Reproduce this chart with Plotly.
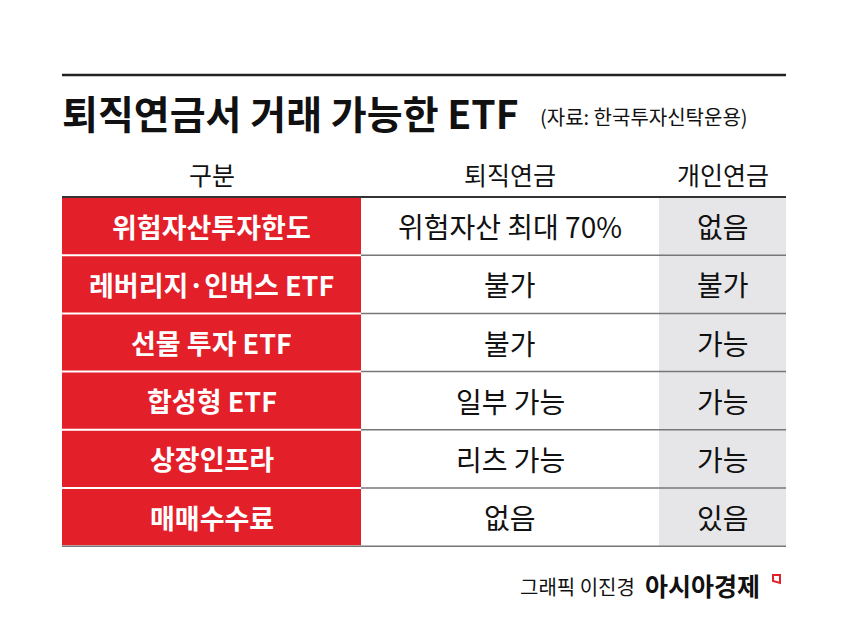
import plotly.graph_objects as go

title = "퇴직연금서 거래 가능한 ETF"
source = "(자료: 한국투자신탁운용)"
headers = ["구분", "퇴직연금", "개인연금"]
categories = ["위험자산투자한도", "레버리지·인버스 ETF", "선물 투자 ETF", "합성형 ETF", "상장인프라", "매매수수료"]
retirement = ["위험자산 최대 70%", "불가", "불가", "일부 가능", "리츠 가능", "없음"]
personal = ["없음", "불가", "가능", "가능", "가능", "있음"]
credit = "그래픽 이진경"
brand = "아시아경제"

W, H = 846, 637
OFF = 8  # page body margin
x0, x1, x2, x3 = 62, 361, 659, 786
ytop, rh = 197, 58.2
F = "Noto Sans CJK KR"

fig = go.Figure()
shapes, ann = [], []
shapes.append(dict(type="line", x0=x0, x1=x3, y0=75, y1=75, line=dict(color="#222", width=2.5)))
ann.append(dict(x=x0-2, y=112, text="<b>"+title+"</b>", xanchor="left", yanchor="middle", showarrow=False, font=dict(family=F, size=39, color="#111")))
ann.append(dict(x=538, y=116, text=source, xanchor="left", yanchor="middle", showarrow=False, font=dict(family=F, size=20, color="#111")))
cx = [(x0+x1)/2, (x1+x2)/2, (x2+x3)/2]
for c, h in zip(cx, headers):
    ann.append(dict(x=c, y=174, text=h, showarrow=False, yanchor="middle", font=dict(family=F, size=25, color="#111")))
n = len(categories)
for i in range(n):
    ya, yb = ytop + i*rh, ytop + (i+1)*rh
    shapes.append(dict(type="rect", x0=x0, x1=x1, y0=ya+1, y1=yb-1, fillcolor="#e3202a", line_width=0, layer="below"))
    shapes.append(dict(type="rect", x0=x2, x1=x3, y0=ya, y1=yb, fillcolor="#e6e6e8", line_width=0, layer="below"))
    if i > 0:
        shapes.append(dict(type="line", x0=x1, x1=x3, y0=ya, y1=ya, line=dict(color="#777", width=1.5)))
    ym = (ya+yb)/2
    ann.append(dict(x=cx[0], y=ym, text="<b>"+categories[i]+"</b>", showarrow=False, yanchor="middle", font=dict(family=F, size=27, color="white")))
    ann.append(dict(x=cx[1], y=ym, text=retirement[i], showarrow=False, yanchor="middle", font=dict(family=F, size=28, color="#111")))
    ann.append(dict(x=cx[2], y=ym, text=personal[i], showarrow=False, yanchor="middle", font=dict(family=F, size=28, color="#111")))
shapes.append(dict(type="line", x0=x0, x1=x3, y0=ytop, y1=ytop, line=dict(color="#333", width=2)))
shapes.append(dict(type="line", x0=x0, x1=x3, y0=ytop+n*rh, y1=ytop+n*rh, line=dict(color="#777", width=1.5)))
ann.append(dict(x=637, y=586, text=credit, xanchor="right", showarrow=False, yanchor="middle", font=dict(family=F, size=20, color="#111")))
ann.append(dict(x=643, y=585, text="<b>"+brand+"</b>", xanchor="left", showarrow=False, yanchor="middle", font=dict(family=F, size=25, color="#111")))
shapes.append(dict(type="path", path="M 773 575 L 780 575 L 780 583 L 773 581 Z", line=dict(color="#e3202a", width=2)))

fig.update_layout(width=W, height=H, margin=dict(l=0, r=0, t=0, b=0), paper_bgcolor="white", plot_bgcolor="white",
                  shapes=shapes, annotations=ann,
                  xaxis=dict(range=[OFF, W+OFF], visible=False, fixedrange=True),
                  yaxis=dict(range=[H+OFF, OFF], visible=False, fixedrange=True), showlegend=False)
fig.write_html("out.html", config={"displayModeBar": False})
